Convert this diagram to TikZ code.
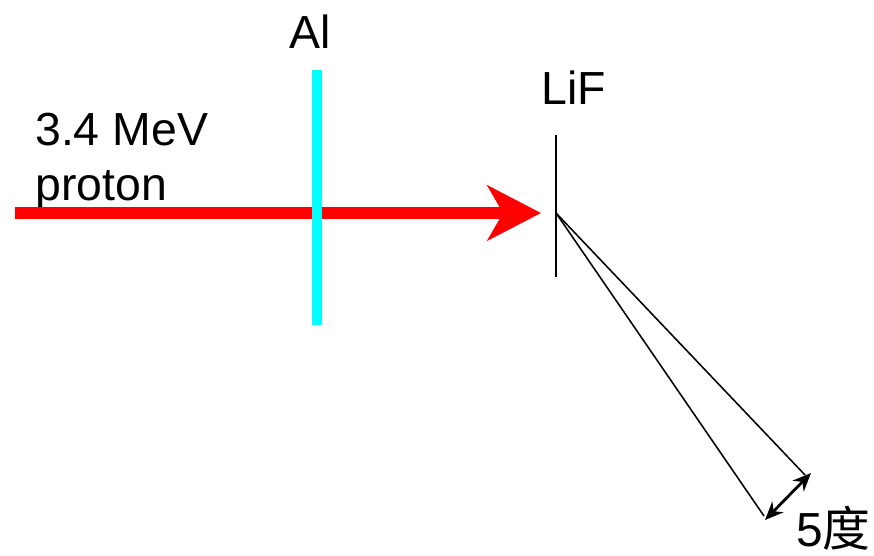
\documentclass[tikz,border=0pt]{standalone}
\usepackage{fontspec}
\setmainfont{Liberation Sans}
\newfontfamily\cjkfont{Noto Sans CJK SC}
\usetikzlibrary{arrows.meta}
\definecolor{foilcyan}{RGB}{0,255,255}

\begin{document}
\begin{tikzpicture}[
    x=0.025cm, y=-0.025cm,
    % Line and label styles
    beam/.style={draw=red, line width=8.5pt, -{Stealth[length=38pt, width=39pt, inset=11pt]}},
    foil/.style={draw=foilcyan, line width=7.1pt},
    target/.style={draw=black, line width=1.4pt},
    ray/.style={draw=black, line width=1.1pt},
    span/.style={draw=black, line width=2pt, {Stealth[length=13pt, width=11pt]}-{Stealth[length=13pt, width=11pt]}},
    lbl/.style={font=\fontsize{33}{39}\selectfont, inner sep=0pt, anchor=base west}
]

% 1. Frame
\useasboundingbox (0,0) rectangle (874,555);

% 2. Foil, target and beam end points
\coordinate (beamstart) at (15,213);
\coordinate (beamtip) at (541,213);
\coordinate (alTop) at (317,70);
\coordinate (alBot) at (317,325);
\coordinate (lifTop) at (556,135);
\coordinate (lifBot) at (556,277);
\coordinate (spot) at (556,213);
\coordinate (rayA) at (764,516);
\coordinate (rayB) at (805,475);

% 3. Labels
\node[lbl] (al) at (289,48) {Al};
\node[lbl] (lif) at (541,104) {LiF};
\node[lbl, align=left] (proton) at (35,200) {3.4 MeV\\proton};
\node[lbl, font=\fontsize{34}{40}\selectfont] (angle) at (796,546) {5{\cjkfont 度}};

% 4. Beam and foils
\draw[beam] (beamstart) -- (beamtip);
\draw[foil] (alTop) -- (alBot);
\draw[target] (lifTop) -- (lifBot);

% 5. Emission cone
\draw[ray] (spot) -- (rayA);
\draw[ray] (spot) -- (rayB);
\draw[span] ([shift={(1,4)}]rayA) -- ([shift={(6,-2)}]rayB);

\end{tikzpicture}
\end{document}
